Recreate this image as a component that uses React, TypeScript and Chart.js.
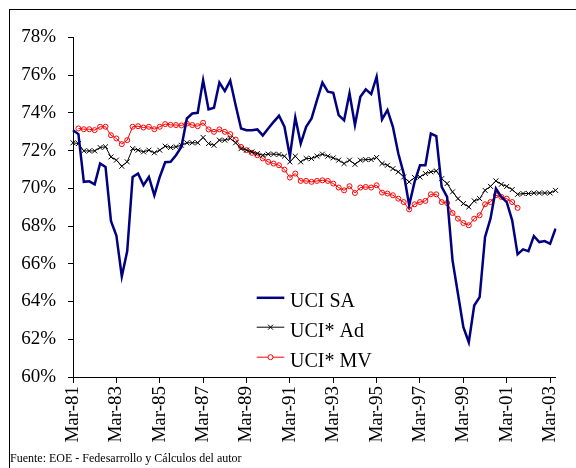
import React, { useEffect, useRef } from "react";
import { Chart, registerables } from "chart.js";

Chart.register(...registerables);

const QUARTERS = ["Mar", "Jun", "Sep", "Dec"];
const FIRST_YEAR = 1981;
const N_POINTS = 90;
const categories: string[] = Array.from({ length: N_POINTS }, (_, i) =>
  `${QUARTERS[i % 4]}-${String((FIRST_YEAR + Math.floor(i / 4)) % 100).padStart(2, "0")}`
);

const yTicks = [60, 62, 64, 66, 68, 70, 72, 74, 76, 78];

const uciSA = [
  73.08, 72.87, 70.34, 70.37, 70.21, 71.31, 71.13, 68.27, 67.5, 65.33,
  66.67, 70.6, 70.78, 70.16, 70.6, 69.63, 70.6, 71.38, 71.4, 71.75,
  72.2, 73.7, 73.96, 74.0, 75.73, 74.18, 74.27, 75.6, 75.15, 75.7,
  74.4, 73.17, 73.08, 73.08, 73.12, 72.8, 73.17, 73.52, 73.84, 73.26,
  71.7, 73.75, 72.37, 73.26, 73.7, 74.67, 75.6, 75.12, 75.06, 73.88,
  73.6, 75.03, 73.35, 74.85, 75.24, 74.99, 75.91, 73.65, 74.14, 73.26,
  71.84, 70.78, 69.1, 70.34, 71.22, 71.22, 72.9, 72.76, 70.07, 69.54,
  66.18, 64.41, 62.64, 61.84, 63.79, 64.23, 67.42, 68.39, 69.98, 69.54,
  69.27, 68.3, 66.5, 66.76, 66.67, 67.47, 67.15, 67.2, 67.06, 67.86,
];

const uciAd = [
  72.41, 72.37, 71.98, 71.98, 71.98, 72.16, 72.2, 71.66, 71.49, 71.17,
  71.4, 72.1, 72.02, 71.93, 72.02, 71.88, 72.02, 72.23, 72.16, 72.2,
  72.28, 72.41, 72.41, 72.41, 72.69, 72.37, 72.28, 72.55, 72.55, 72.64,
  72.41, 72.1, 72.02, 71.93, 71.84, 71.75, 71.81, 71.81, 71.79, 71.7,
  71.4, 71.7, 71.4, 71.58, 71.58, 71.7, 71.81, 71.7, 71.61, 71.49,
  71.31, 71.49, 71.27, 71.49, 71.52, 71.52, 71.63, 71.31, 71.22, 71.04,
  70.87, 70.6, 70.34, 70.57, 70.6, 70.78, 70.87, 70.92, 70.51, 70.25,
  69.81, 69.45, 69.19, 69.01, 69.33, 69.45, 69.89, 70.1, 70.39, 70.21,
  70.1, 69.93, 69.68, 69.72, 69.72, 69.75, 69.75, 69.75, 69.75, 69.89,
];

const uciMV = [
  null, 73.17, 73.13, 73.13, 73.08, 73.26, 73.26, 72.81, 72.64, 72.34,
  72.55, 73.26, 73.29, 73.22, 73.26, 73.13, 73.26, 73.4, 73.36, 73.35,
  73.33, 73.43, 73.35, 73.29, 73.47, 73.12, 72.99, 73.12, 72.99, 72.87,
  72.58, 72.19, 72.02, 71.88, 71.75, 71.58, 71.4, 71.31, 71.22, 70.99,
  70.57, 70.78, 70.39, 70.39, 70.34, 70.39, 70.42, 70.39, 70.25, 70.04,
  69.89, 70.11, 69.75, 70.04, 70.07, 70.04, 70.16, 69.77, 69.72, 69.63,
  69.45, 69.27, 68.88, 69.15, 69.27, 69.33, 69.68, 69.68, 69.27, 69.22,
  68.69, 68.39, 68.16, 68.04, 68.39, 68.57, 69.15, 69.27, 69.63, 69.54,
  69.45, 69.27, 68.96, null, null, null, null, null, null, null,
];

const seriesNames = ["UCI SA", "UCI* Ad", "UCI* MV"];
const footnote = "Fuente: EOE - Fedesarrollo y Cálculos del autor";

const FONT = "'Liberation Serif', 'Times New Roman', serif";
const BLUE = "#000080";
const BLACK = "#000000";
const RED = "#ff0000";

const legendPlugin = {
  id: "customLegend",
  afterDraw(chart: any) {
    const ctx = chart.ctx as CanvasRenderingContext2D;
    const rows = [
      { name: seriesNames[0], color: BLUE, width: 2.5, marker: "none", base: 297.3 },
      { name: seriesNames[1], color: BLACK, width: 1, marker: "x", base: 326.7 },
      { name: seriesNames[2], color: RED, width: 1, marker: "o", base: 356.7 },
    ];
    const x0 = 246.7;
    const x1 = 274.3;
    const xm = (x0 + x1) / 2;
    ctx.save();
    rows.forEach((r) => {
      const ly = r.base - 9.5;
      ctx.strokeStyle = r.color;
      ctx.lineWidth = r.width;
      ctx.beginPath();
      ctx.moveTo(x0, ly);
      ctx.lineTo(x1, ly);
      ctx.stroke();
      ctx.lineWidth = 1;
      if (r.marker === "x") {
        const d = 2.5;
        ctx.beginPath();
        ctx.moveTo(xm - d, ly - d);
        ctx.lineTo(xm + d, ly + d);
        ctx.moveTo(xm - d, ly + d);
        ctx.lineTo(xm + d, ly - d);
        ctx.stroke();
      } else if (r.marker === "o") {
        ctx.beginPath();
        ctx.arc(xm, ly, 2.5, 0, Math.PI * 2);
        ctx.fillStyle = "#ffffff";
        ctx.fill();
        ctx.stroke();
      }
      ctx.fillStyle = "#000";
      ctx.font = `20px ${FONT}`;
      ctx.textBaseline = "alphabetic";
      ctx.textAlign = "left";
      ctx.fillText(r.name, 280, r.base);
    });
    ctx.restore();
  },
};

export default function App() {
  const canvasRef = useRef<HTMLCanvasElement | null>(null);

  useEffect(() => {
    const canvas = canvasRef.current;
    if (!canvas) return;
    const chart = new Chart(canvas, {
      type: "line",
      data: {
        labels: categories,
        datasets: [
          {
            label: seriesNames[0],
            data: uciSA,
            borderColor: BLUE,
            backgroundColor: BLUE,
            borderWidth: 2.5,
            pointRadius: 0,
            tension: 0,
          },
          {
            label: seriesNames[1],
            data: uciAd,
            borderColor: BLACK,
            backgroundColor: BLACK,
            borderWidth: 1,
            pointStyle: "crossRot",
            pointRadius: 3.5,
            pointBorderWidth: 1,
            pointBorderColor: BLACK,
            tension: 0,
          },
          {
            label: seriesNames[2],
            data: uciMV,
            borderColor: RED,
            backgroundColor: "rgba(0,0,0,0)",
            borderWidth: 1,
            pointStyle: "circle",
            pointRadius: 2.5,
            pointBorderWidth: 1,
            pointBorderColor: RED,
            pointBackgroundColor: "rgba(0,0,0,0)",
            tension: 0,
            spanGaps: false,
          },
        ],
      },
      options: {
        animation: false,
        responsive: false,
        devicePixelRatio: 1,
        layout: { padding: { left: 0, right: 7, top: 27.3, bottom: 2 } },
        plugins: {
          legend: { display: false },
          tooltip: { enabled: false },
          title: { display: false },
          subtitle: {
            display: true,
            text: footnote,
            position: "bottom",
            align: "start",
            color: "#000",
            font: { family: FONT, size: 12, weight: "normal" },
            padding: { top: 0, bottom: 0 },
          },
        },
        scales: {
          x: {
            type: "category",
            offset: false,
            ticks: {
              autoSkip: false,
              maxRotation: 90,
              minRotation: 90,
              color: "#000",
              padding: 3,
              font: { family: FONT, size: 19 },
            },
            afterBuildTicks: (scale: any) => {
              scale.ticks = scale.ticks.filter((t: any) => t.value % 8 === 0);
            },
            grid: {
              display: true,
              drawOnChartArea: false,
              drawTicks: true,
              tickLength: 6,
              color: "#000",
              lineWidth: 1,
            },
            border: { display: true, color: "#000", width: 1 },
            afterFit: (scale: any) => {
              scale.height = 74.6;
            },
          },
          y: {
            min: yTicks[0],
            max: yTicks[yTicks.length - 1],
            afterBuildTicks: (scale: any) => {
              scale.ticks = yTicks.map((v) => ({ value: v }));
            },
            ticks: {
              color: "#000",
              padding: 12,
              font: { family: FONT, size: 19 },
              callback: (v: any) => `${v}%`,
            },
            grid: {
              display: true,
              drawOnChartArea: false,
              drawTicks: true,
              tickLength: 5,
              color: "#000",
              lineWidth: 1,
            },
            border: { display: true, color: "#000", width: 1 },
            afterFit: (scale: any) => {
              scale.width = 63;
            },
          },
        },
      },
      plugins: [legendPlugin],
    } as any);
    return () => chart.destroy();
  }, []);

  return (
    <div
      style={{
        position: "absolute",
        left: 9,
        top: 9,
        width: 567,
        height: 459,
        boxSizing: "border-box",
        borderLeft: "1px solid #000",
        borderTop: "1px solid #000",
        background: "#fff",
        overflow: "hidden",
      }}
    >
      <canvas
        ref={canvasRef}
        width={566}
        height={458}
        style={{ display: "block", width: 566, height: 458 }}
      />
    </div>
  );
}
